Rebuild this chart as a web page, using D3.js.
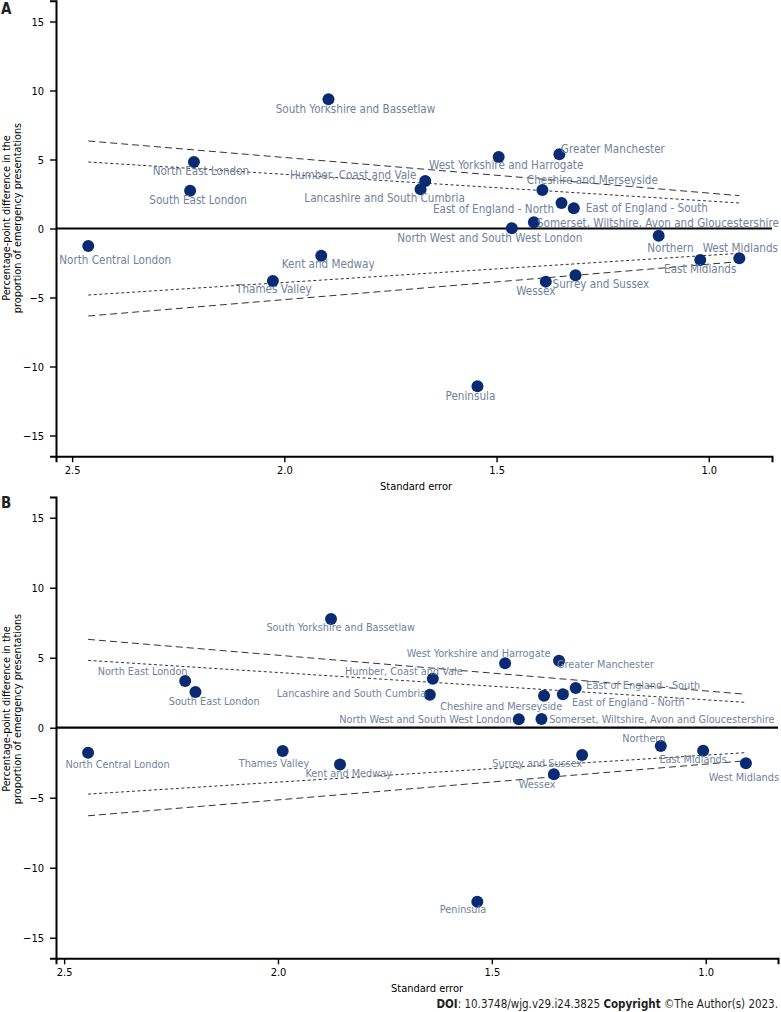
<!DOCTYPE html>
<html>
<head>
<meta charset="utf-8">
<script src="https://cdn.jsdelivr.net/npm/d3@7"></script>
<style>
  body { margin: 0; background: #fff; }
  text { font-family: "DejaVu Sans Condensed", "DejaVu Sans", sans-serif; }
</style>
</head>
<body>
<div id="chart"></div>
<script>
// Regions (same order in both panels)
var regions = [
  "South Yorkshire and Bassetlaw", "North East London", "South East London",
  "North Central London", "Thames Valley", "Kent and Medway",
  "Humber, Coast and Vale", "Lancashire and South Cumbria",
  "West Yorkshire and Harrogate", "Greater Manchester", "Cheshire and Merseyside",
  "East of England - North", "East of England - South",
  "Somerset, Wiltshire, Avon and Gloucestershire",
  "North West and South West London", "Northern", "West Midlands",
  "East Midlands", "Surrey and Sussex", "Wessex", "Peninsula"
];

// Panel A values
var seA = [1.896, 2.213, 2.222, 2.462, 2.027, 1.913, 1.668, 1.679, 1.495, 1.352, 1.392,
           1.347, 1.318, 1.412, 1.464, 1.118, 0.928, 1.020, 1.314, 1.384, 1.545];
var diffA = [9.36, 4.82, 2.74, -1.27, -3.80, -1.97, 3.44, 2.84, 5.18, 5.38, 2.79,
             1.85, 1.46, 0.45, 0.02, -0.52, -2.16, -2.28, -3.39, -3.85, -11.43];

// Panel B values
var seB = [1.876, 2.217, 2.193, 2.444, 1.989, 1.855, 1.638, 1.645, 1.469, 1.343, 1.378,
           1.334, 1.304, 1.384, 1.437, 1.105, 0.906, 1.006, 1.289, 1.355, 1.534];
var diffB = [7.76, 3.33, 2.55, -1.79, -1.66, -2.62, 3.50, 2.36, 4.60, 4.79, 2.29,
             2.39, 2.84, 0.62, 0.60, -1.31, -2.54, -1.64, -1.95, -3.33, -12.43];

// Funnel limits (end points)
var funnelSeA = [2.462, 0.928];
var upper99A = [6.34, 2.38], upper95A = [4.82, 1.85];
var lower95A = [-4.82, -1.80], lower99A = [-6.34, -2.40];
var funnelSeB = [2.444, 0.906];
var upper99B = [6.31, 2.39], upper95B = [4.81, 1.81];
var lower95B = [-4.74, -1.78], lower99B = [-6.29, -2.36];

var xTicks = [2.5, 2.0, 1.5, 1.0];
var yTicks = [-15, -10, -5, 0, 5, 10, 15];

// Label offsets from each point (px): [dx, dy of baseline]
var labelOffA = [[27, 14], [7, 13], [8, 13], [27, 18], [1, 12], [7, 12.6], [-72, -2],
  [-36, 13], [7.5, 12.3], [53.5, -1], [50, -5.7], [-68, 10.3], [73, 4], [124, 4.4],
  [-22, 14], [11.7, 16], [1, -6], [0, 13.3], [25.4, 12.4], [-10, 13.3], [-7, 13.7]];
var labelOffB = [[9.7, 12], [-42.6, -6], [18.8, 13], [29.5, 15.6], [-8.7, 15.7], [8.7, 12.4],
  [-29, -3.7], [-78.3, 2], [-26.5, -6], [46.5, 7.6], [-42.8, 14.3], [65.5, 11.4],
  [67.6, 1], [120.4, 4.3], [-93.3, 4], [-17, -3.7], [-2, 17.4], [-10, 12.6],
  [-44.8, 11.7], [-16.7, 13.4], [-14.3, 11.6]];

var svg = d3.select("#chart").append("svg")
  .attr("width", 781)
  .attr("height", 1012);

function drawPanel(p) {
  var g = svg.append("g");
  var x = d3.scaleLinear().domain(p.xDomain).range(p.xRange);
  var y = d3.scaleLinear().domain(p.yDomain).range(p.yRange);

  // funnel limits
  var lines = [[p.up99, "7,4"], [p.up95, "3,2.5"], [p.lo95, "3,2.5"], [p.lo99, "7,4"]];
  lines.forEach(function(l) {
    g.append("line")
      .attr("x1", x(p.funnelSe[0])).attr("x2", x(p.funnelSe[1]))
      .attr("y1", y(l[0][0])).attr("y2", y(l[0][1]))
      .attr("stroke", "#333").attr("stroke-width", 1)
      .attr("stroke-dasharray", l[1]);
  });

  // zero line
  g.append("line")
    .attr("x1", p.xRange[0]).attr("x2", p.xRange[1])
    .attr("y1", y(0)).attr("y2", y(0))
    .attr("stroke", "#000").attr("stroke-width", 2.2);

  // axes
  var yAxis = g.append("g")
    .attr("transform", "translate(" + p.xRange[0] + ",0)")
    .call(d3.axisLeft(y).tickValues(yTicks).tickSizeOuter(0).tickSize(6).tickPadding(6));
  var xAxis = g.append("g")
    .attr("transform", "translate(0," + p.yRange[1] + ")")
    .call(d3.axisBottom(x).tickValues(xTicks).tickFormat(d3.format(".1f"))
      .tickSizeOuter(0).tickSize(6).tickPadding(4));
  [xAxis, yAxis].forEach(function(a) {
    a.select(".domain").attr("stroke-width", 2);
    a.selectAll(".tick line").attr("stroke-width", 1.4);
    a.selectAll(".tick text").attr("fill", "#000")
      .style("font-size", "11px")
      .style("font-family", "'DejaVu Sans Condensed', 'DejaVu Sans', sans-serif");
  });

  // points
  g.selectAll("circle.pt")
    .data(p.se)
    .enter()
    .append("circle")
    .attr("class", "pt")
    .attr("cx", function(d) { return x(d); })
    .attr("cy", function(d, i) { return y(p.diff[i]); })
    .attr("r", 6)
    .attr("fill", "#0a2b74");

  // labels
  g.selectAll("text.lab")
    .data(regions)
    .enter()
    .append("text")
    .attr("class", "lab")
    .attr("x", function(d, i) { return x(p.se[i]) + p.off[i][0]; })
    .attr("y", function(d, i) { return y(p.diff[i]) + p.off[i][1]; })
    .attr("text-anchor", "middle")
    .attr("fill", "#6f839c")
    .style("font-size", p.labelSize + "px")
    .text(function(d) { return d; });

  // axis titles
  g.append("text")
    .attr("x", p.xTitle[0]).attr("y", p.xTitle[1])
    .style("font-size", "11px")
    .attr("fill", "#000")
    .text("Standard error");

  var yt = g.append("text")
    .attr("transform", "translate(10," + p.yTitleCenter + ") rotate(-90)")
    .attr("text-anchor", "middle")
    .style("font-size", "10.8px")
    .attr("fill", "#000");
  yt.append("tspan").attr("x", 0).attr("y", 0).text("Percentage-point difference in the");
  yt.append("tspan").attr("x", 0).attr("y", 11).text("proportion of emergency presentations");

  // panel letter
  g.append("text")
    .attr("x", 1).attr("y", p.letterY)
    .style("font-size", "15px").style("font-weight", "bold")
    .attr("fill", "#231f20")
    .text(p.letter);
}

drawPanel({
  letter: "A", letterY: 14,
  se: seA, diff: diffA, off: labelOffA, labelSize: 11.6,
  xDomain: [2.538, 0.851], xRange: [56, 772],
  yDomain: [16.5, -16.5], yRange: [0.8, 456.2],
  funnelSe: funnelSeA, up99: upper99A, up95: upper95A, lo95: lower95A, lo99: lower99A,
  xTitle: [380, 490], yTitleCenter: 218
});

drawPanel({
  letter: "B", letterY: 508,
  se: seB, diff: diffB, off: labelOffB, labelSize: 10.8,
  xDomain: [2.519, 0.831], xRange: [56, 778],
  yDomain: [16.48, -16.47], yRange: [497, 958.3],
  funnelSe: funnelSeB, up99: upper99B, up95: upper95B, lo95: lower95B, lo99: lower99B,
  xTitle: [391, 991.5], yTitleCenter: 709
});

// footer
var foot = svg.append("text")
  .attr("x", 778).attr("y", 1008)
  .attr("text-anchor", "end")
  .attr("fill", "#231f20")
  .style("font-size", "11.5px");
foot.append("tspan").style("font-weight", "bold").text("DOI");
foot.append("tspan").text(": 10.3748/wjg.v29.i24.3825 ");
foot.append("tspan").style("font-weight", "bold").text("Copyright");
foot.append("tspan").text(" \u00A9The Author(s) 2023.");
</script>
</body>
</html>
